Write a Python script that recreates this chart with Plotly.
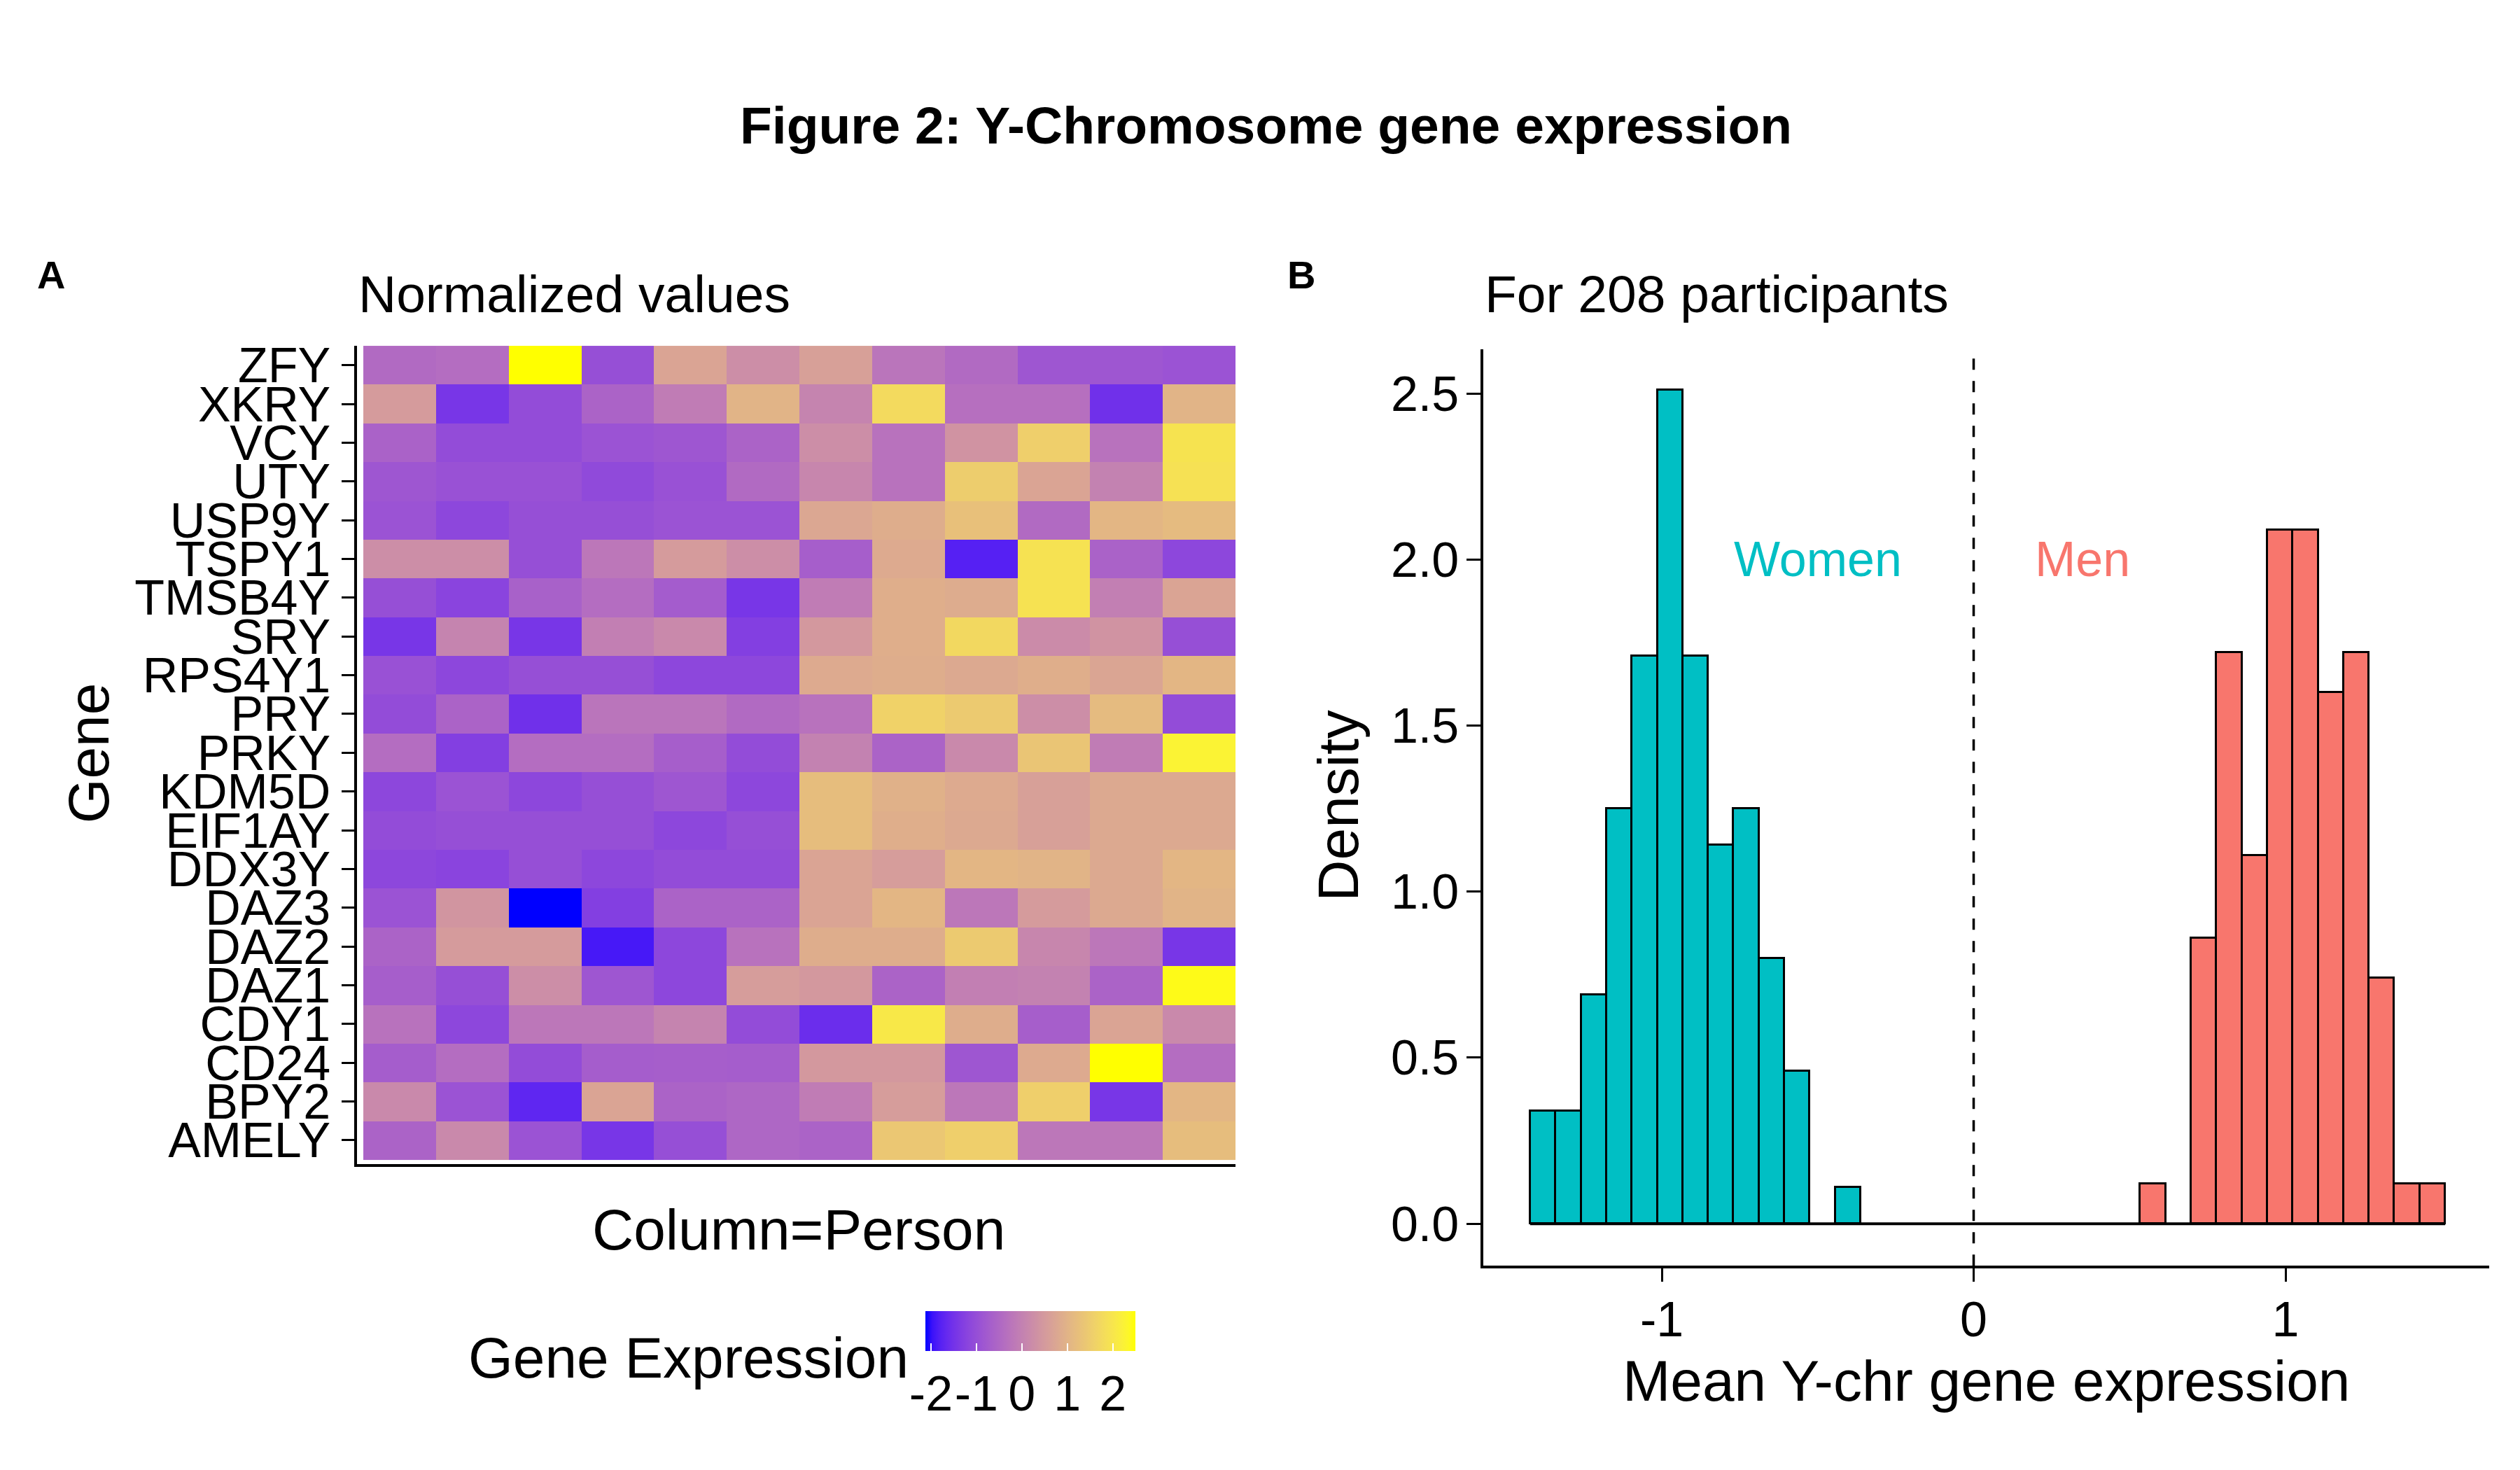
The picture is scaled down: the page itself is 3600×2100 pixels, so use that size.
import plotly.graph_objects as go

# ---------------- data ----------------
genes = ["ZFY", "XKRY", "VCY", "UTY", "USP9Y", "TSPY1", "TMSB4Y", "SRY", "RPS4Y1", "PRY",
         "PRKY", "KDM5D", "EIF1AY", "DDX3Y", "DAZ3", "DAZ2", "DAZ1", "CDY1", "CD24", "BPY2", "AMELY"]
persons = [1, 2, 3, 4, 5, 6, 7, 8, 9, 10, 11, 12]

expr_ZFY    = [-0.45, -0.40, 2.49, -1.00, 0.70, 0.25, 0.62, -0.25, -0.45, -0.85, -0.85, -0.92]
expr_XKRY   = [0.52, -1.45, -1.05, -0.60, -0.10, 1.00, 0.05, 1.75, -0.35, -0.35, -1.55, 1.00]
expr_VCY    = [-0.62, -1.05, -1.05, -0.92, -0.85, -0.60, 0.25, -0.30, 0.35, 1.55, -0.30, 1.95]
expr_UTY    = [-0.85, -0.95, -0.95, -1.10, -0.95, -0.45, 0.10, -0.30, 1.50, 0.70, 0.00, 1.90]
expr_USP9Y  = [-0.92, -1.15, -1.00, -1.00, -0.92, -0.92, 0.75, 0.88, 1.25, -0.45, 1.05, 1.15]
expr_TSPY1  = [0.25, 0.25, -1.00, -0.20, 0.52, 0.25, -0.70, 0.82, -1.80, 1.92, -0.62, -1.15]
expr_TMSB4Y = [-1.00, -1.20, -0.65, -0.40, -0.75, -1.45, -0.10, 0.90, 0.85, 1.92, -0.05, 0.70]
expr_SRY    = [-1.45, 0.05, -1.45, -0.05, 0.15, -1.30, 0.45, 0.90, 1.72, 0.20, 0.35, -1.00]
expr_RPS4Y1 = [-0.95, -1.15, -1.00, -1.00, -1.15, -1.15, 0.82, 0.88, 0.80, 0.90, 0.72, 1.05]
expr_PRY    = [-1.05, -0.60, -1.55, -0.25, -0.25, -0.45, -0.30, 1.60, 1.45, 0.25, 1.15, -1.05]
expr_PRKY   = [-0.40, -1.30, -0.40, -0.40, -0.70, -1.05, 0.00, -0.60, 0.15, 1.35, -0.10, 2.25]
expr_KDM5D  = [-1.15, -0.92, -1.15, -1.00, -0.85, -1.15, 1.20, 0.95, 0.82, 0.62, 0.80, 0.80]
expr_EIF1AY = [-1.05, -1.00, -1.00, -1.00, -1.15, -1.00, 1.20, 0.90, 0.80, 0.62, 0.80, 0.80]
expr_DDX3Y  = [-1.15, -1.20, -1.00, -1.15, -1.05, -1.05, 0.70, 0.55, 1.05, 1.00, 0.80, 1.05]
expr_DAZ3   = [-0.92, 0.40, -2.13, -1.30, -0.60, -0.60, 0.70, 1.05, -0.20, 0.52, 0.80, 1.00]
expr_DAZ2   = [-0.60, 0.52, 0.52, -1.90, -1.15, -0.30, 0.88, 0.88, 1.45, 0.10, -0.20, -1.45]
expr_DAZ1   = [-0.70, -1.00, 0.25, -0.85, -1.15, 0.55, 0.45, -0.60, -0.05, 0.00, -0.60, 2.40]
expr_CDY1   = [-0.30, -1.15, -0.20, -0.20, 0.05, -1.05, -1.60, 2.05, 0.88, -0.70, 0.70, 0.15]
expr_CD24   = [-0.72, -0.40, -1.05, -0.72, -0.70, -0.72, 0.45, 0.45, -0.85, 0.82, 2.49, -0.40]
expr_BPY2   = [0.15, -0.92, -1.72, 0.70, -0.60, -0.52, -0.10, 0.55, -0.20, 1.55, -1.45, 1.05]
expr_AMELY  = [-0.60, 0.15, -0.92, -1.45, -1.00, -0.52, -0.60, 1.40, 1.55, -0.20, -0.20, 1.20]

expr = [expr_ZFY, expr_XKRY, expr_VCY, expr_UTY, expr_USP9Y, expr_TSPY1, expr_TMSB4Y, expr_SRY,
        expr_RPS4Y1, expr_PRY, expr_PRKY, expr_KDM5D, expr_EIF1AY, expr_DDX3Y, expr_DAZ3, expr_DAZ2,
        expr_DAZ1, expr_CDY1, expr_CD24, expr_BPY2, expr_AMELY]

colorbar_ticks = [-2, -1, 0, 1, 2]
colorbar_ticktext = ["-2", "-1", "0", "1", "2"]

# histogram (density per bin)
bin_start = -1.422
bin_width = 0.0815
women_density = [0.34, 0.34, 0.69, 1.25, 1.71, 2.51, 1.71, 1.14, 1.25, 0.80, 0.46, 0.00, 0.11,
                 0, 0, 0, 0, 0, 0, 0, 0, 0, 0, 0, 0, 0, 0, 0, 0, 0, 0, 0, 0, 0, 0, 0]
men_density = [0, 0, 0, 0, 0, 0, 0, 0, 0, 0, 0, 0, 0, 0, 0, 0, 0, 0, 0, 0, 0, 0, 0, 0,
               0.12, 0.00, 0.86, 1.72, 1.11, 2.09, 2.09, 1.60, 1.72, 0.74, 0.12, 0.12]
hist_xticks = [-1, 0, 1]
hist_xticktext = ["-1", "0", "1"]
hist_yticks = [0.0, 0.5, 1.0, 1.5, 2.0, 2.5]
hist_yticktext = ["0.0", "0.5", "1.0", "1.5", "2.0", "2.5"]

# ---------------- colour scale (Lab interpolation blue -> yellow) ----------------
def _srgb_to_lab(rgb):
    def lin(c):
        c = c / 255.0
        return c / 12.92 if c <= 0.04045 else ((c + 0.055) / 1.055) ** 2.4
    r, g, b = (lin(c) for c in rgb)
    X = (0.4124 * r + 0.3576 * g + 0.1805 * b) / 0.95047
    Y = (0.2126 * r + 0.7152 * g + 0.0722 * b)
    Z = (0.0193 * r + 0.1192 * g + 0.9505 * b) / 1.08883
    def f(t):
        return t ** (1 / 3) if t > 0.008856 else 7.787 * t + 16 / 116
    fx, fy, fz = f(X), f(Y), f(Z)
    return (116 * fy - 16, 500 * (fx - fy), 200 * (fy - fz))


def _lab_to_hex(L, a, b):
    fy = (L + 16) / 116
    fx = fy + a / 500
    fz = fy - b / 200
    def finv(t):
        return t ** 3 if t ** 3 > 0.008856 else (t - 16 / 116) / 7.787
    X, Y, Z = 0.95047 * finv(fx), finv(fy), 1.08883 * finv(fz)
    r = 3.2406 * X - 1.5372 * Y - 0.4986 * Z
    g = -0.9689 * X + 1.8758 * Y + 0.0415 * Z
    bb = 0.0557 * X - 0.2040 * Y + 1.0570 * Z
    def gam(c):
        c = max(0.0, min(1.0, c))
        return 12.92 * c if c <= 0.0031308 else 1.055 * c ** (1 / 2.4) - 0.055
    return "#%02x%02x%02x" % tuple(int(round(gam(c) * 255)) for c in (r, g, bb))


lab_lo = _srgb_to_lab((0, 0, 255))
lab_hi = _srgb_to_lab((255, 255, 0))
n_stops = 30
colorscale = []
for i in range(n_stops + 1):
    t = i / n_stops
    colorscale.append([t, _lab_to_hex(*[lo + (hi - lo) * t for lo, hi in zip(lab_lo, lab_hi)])])

# ---------------- figure ----------------
W, H = 3600, 2100
FONT = "Liberation Sans, Arial, sans-serif"


def px(x):
    return x / W


def py(y):
    return 1 - y / H


fig = go.Figure()

fig.add_trace(go.Heatmap(
    z=expr, x=persons, y=genes, colorscale=colorscale, xgap=0, ygap=0,
    xaxis="x", yaxis="y", hoverinfo="skip",
    colorbar=dict(orientation="h", x=px(1471.5), xanchor="center", y=py(1877), yanchor="top",
                  len=300, lenmode="pixels", thickness=57, outlinewidth=0, xpad=0, ypad=0,
                  tickmode="array", tickvals=colorbar_ticks, ticktext=colorbar_ticktext, tickangle=0,
                  ticks="inside", tickcolor="white", ticklen=11, tickwidth=2,
                  tickfont=dict(size=70, color="black", family=FONT)),
))

centers = [bin_start + bin_width * (i + 0.5) for i in range(len(women_density))]
wx = [c for c, d in zip(centers, women_density) if d > 0]
wy = [d for d in women_density if d > 0]
mx = [c for c, d in zip(centers, men_density) if d > 0]
my = [d for d in men_density if d > 0]

fig.add_trace(go.Bar(x=wx, y=wy, width=bin_width, marker=dict(color="#00BFC4", line=dict(color="black", width=3)),
                     xaxis="x2", yaxis="y2", showlegend=False, hoverinfo="skip"))
fig.add_trace(go.Bar(x=mx, y=my, width=bin_width, marker=dict(color="#F8766D", line=dict(color="black", width=3)),
                     xaxis="x2", yaxis="y2", showlegend=False, hoverinfo="skip"))

# baseline of the histogram (zero-height bins) and the dashed zero line
fig.add_shape(type="line", xref="x2", yref="y2", x0=bin_start, x1=bin_start + bin_width * len(women_density),
              y0=0, y1=0, line=dict(color="black", width=4))
fig.add_shape(type="line", xref="x2", yref="y2 domain", x0=0, x1=0, y0=0, y1=1,
              line=dict(color="black", width=3.5, dash="16px,16px"))

axis_common = dict(showgrid=False, zeroline=False, showline=True, linecolor="black", linewidth=3.5)

fig.update_layout(
    width=W, height=H, margin=dict(l=0, r=0, t=0, b=0),
    paper_bgcolor="white", plot_bgcolor="white",
    font=dict(family=FONT, color="black"),
    bargap=0, showlegend=False,
    xaxis=dict(domain=[px(510), px(1765)], range=[0.413, 12.5], showticklabels=False, ticks="",
               anchor="y", **axis_common),
    yaxis=dict(domain=[py(1665), py(487)], type="category", categoryorder="array", categoryarray=genes,
               range=[20.607, -0.5], tickmode="array", tickvals=genes, ticktext=genes,
               ticks="outside", ticklen=18, tickwidth=3, tickcolor="black",
               tickfont=dict(size=70, color="black", family=FONT), ticklabelstandoff=2,
               anchor="x", **axis_common),
    xaxis2=dict(domain=[px(2119), px(3556)], range=[-1.5724, 1.6532], tickmode="array",
                tickvals=hist_xticks, ticktext=hist_xticktext,
                ticks="outside", ticklen=19, tickwidth=3, tickcolor="black",
                tickfont=dict(size=70, color="black", family=FONT), ticklabelstandoff=-6,
                anchor="y2", **axis_common),
    yaxis2=dict(domain=[py(1812), py(492)], range=[-0.1268, 2.633], tickmode="array",
                tickvals=hist_yticks, ticktext=hist_yticktext,
                ticks="outside", ticklen=20, tickwidth=3, tickcolor="black",
                tickfont=dict(size=70, color="black", family=FONT), ticklabelstandoff=-3,
                anchor="x2", **axis_common),
)

ann = []
def text(x, y, s, size, **kw):
    d = dict(x=px(x), y=py(y), xref="paper", yref="paper", text=s, showarrow=False,
             font=dict(size=size, color=kw.pop("color", "black"), family=FONT))
    d.update(kw)
    ann.append(d)

text(1808, 169, "<b>Figure 2: Y-Chromosome gene expression</b>", 75, xanchor="center", yanchor="middle")
text(73, 385, "<b>A</b>", 56, xanchor="center", yanchor="middle")
text(1859, 385, "<b>B</b>", 56, xanchor="center", yanchor="middle")
text(510, 412, "Normalized values", 75, xanchor="left", yanchor="middle")
text(2119, 412, "For 208 participants", 75, xanchor="left", yanchor="middle")
text(126, 1074, "Gene", 82, xanchor="center", yanchor="middle", textangle=-90)
text(1141, 1760, "Column=Person", 82, xanchor="center", yanchor="middle")
text(1912, 1150, "Density", 82, xanchor="center", yanchor="middle", textangle=-90)
text(2837, 1978, "Mean Y-chr gene expression", 82, xanchor="center", yanchor="middle")
text(1300, 1944, "Gene Expression", 82, xanchor="right", yanchor="middle")
fig.update_layout(annotations=ann)

fig.add_annotation(x=-0.5, y=2.0, xref="x2", yref="y2", text="Women", showarrow=False,
                   font=dict(size=70, color="#00BFC4", family=FONT), xanchor="center", yanchor="middle")
fig.add_annotation(x=0.35, y=2.0, xref="x2", yref="y2", text="Men", showarrow=False,
                   font=dict(size=70, color="#F8766D", family=FONT), xanchor="center", yanchor="middle")

fig.write_html("out.html", config={"displayModeBar": False},
               post_script="document.body.style.margin='0';document.body.style.overflow='hidden';")
